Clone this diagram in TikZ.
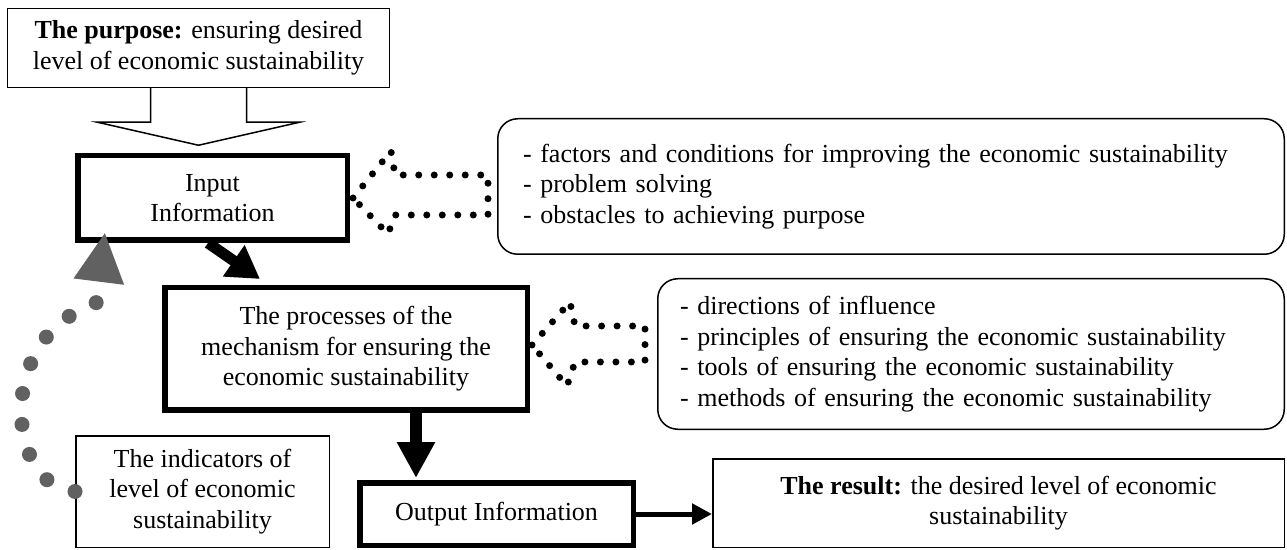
\documentclass[tikz,border=0pt]{standalone}
\usepackage{fontspec}
\setmainfont{Liberation Serif}
\usetikzlibrary{arrows.meta}
\begin{document}
\begin{tikzpicture}[x=1pt,y=1pt]

      \tikzset{every node/.style={font=\fontsize{26}{30.5}\selectfont},
               thickbox/.style={draw, line width=5.5pt, inner sep=0pt, align=center},
               thinbox/.style={draw, line width=1.5pt, inner sep=0pt, align=center},
               listbox/.style={draw, line width=1.5pt, rounded corners=20pt, inner sep=0pt, align=left},
               dotline/.style={line width=7pt, line cap=round, dash pattern=on 0pt off 15.5pt},
               grayline/.style={draw=black!62, line width=15pt, line cap=round, dash pattern=on 0pt off 31pt,
                                -{Triangle[width=47pt,length=50pt,fill=black!62]}}}
      \useasboundingbox (0,0) rectangle (1287,549);
%% Boxes
      	\node[thinbox, minimum width=382pt, minimum height=79pt] (purpose) at (198.5,501) {\textbf{The purpose:} ensuring desired\\level of economic sustainability};
      	\node[thickbox, minimum width=269.5pt, minimum height=84.5pt] (input) at (212.5,351) {Input\\Information};
      	\node[listbox, text width=736pt, minimum width=786.5pt, minimum height=135.5pt] (list1) at (891,362.5) {- factors and conditions for improving the economic sustainability\\- problem solving\\- obstacles to achieving purpose};
      	\node[thickbox, minimum width=362.5pt, minimum height=122.5pt] (proc) at (346,200) {The processes of the\\mechanism for ensuring the\\economic sustainability};
      	\node[listbox, text width=582pt, minimum width=626.5pt, minimum height=150.5pt] (list2) at (971,195) {- directions of influence\\- principles of ensuring the economic sustainability\\- tools of ensuring the economic sustainability\\- methods of ensuring the economic sustainability};
      	\node[thickbox, minimum width=273.5pt, minimum height=62.5pt] (output) at (496.5,35) {Output Information};
      	\node[thinbox, minimum width=571.5pt, minimum height=88.5pt] (result) at (998.5,46) {\textbf{The result:} the desired level of economic\\sustainability};
      	\node[thinbox, minimum width=253.5pt, minimum height=111.5pt] (indic) at (202.5,57.5) {The indicators of\\level of economic\\sustainability};
%Arrows
		\draw[line width=1.5pt, fill=white] ([xshift=-48pt]purpose.south) |- ++(-53,-34) -- ([yshift=-57pt]purpose.south) -- ++(101,23) -| ([xshift=48pt]purpose.south);
		\draw[dotline] ([xshift=3pt]input.east) -- ++(38,47) -- ++(4,-24) -- ++(93,0) -- ++(0,-40) -- ++(-93,0) -- ++(-7,-19) -- cycle;
		\draw[dotline] ([shift={(2pt,4pt)}]proc.east) -- ++(38,43) -- ++(5,-24) -- ++(70,0) -- ++(0,-36) -- ++(-70,0) -- ++(-8,-24) -- cycle;
		\path [-{Triangle[width=36pt,length=32pt]}, line width=11pt] ([xshift=-4.5pt]input.south) edge ([shift={(-86pt,6pt)}]proc.north);
		\path [-{Triangle[width=36pt,length=36pt]}, line width=12pt] ([xshift=70pt]proc.south) edge ([shift={(-80.5pt,2pt)}]output.north);
		\path [-{Triangle[width=20pt,length=20pt]}, line width=5pt] (output.east) edge (output.east -| result.west);
		\path [grayline] (indic.west) .. controls (5,62) and (-5,215) .. (96,245) -- ([shift={(30pt,11pt)}]input.south west);

	\end{tikzpicture}
\end{document}
